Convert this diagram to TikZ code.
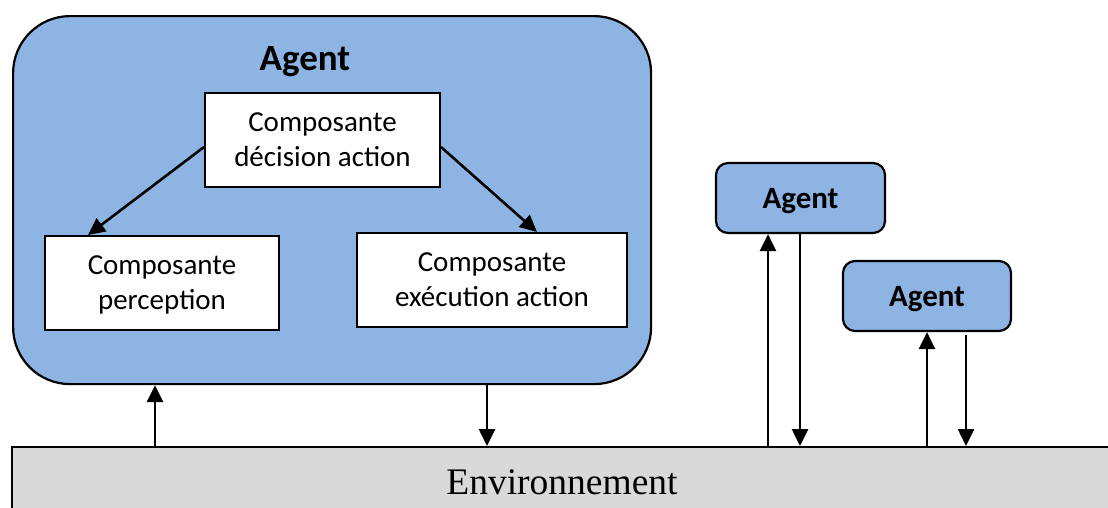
\documentclass[tikz,border=0pt]{standalone}
\usepackage{fontspec}
\setmainfont{Carlito}
\newfontfamily\envfont{Liberation Serif}
\usetikzlibrary{arrows.meta}

\definecolor{agentblue}{HTML}{8EB4E3}
\definecolor{envgray}{HTML}{D9D9D9}

\tikzset{
  agentbig/.style={draw=black, line width=2.2pt, fill=agentblue, rounded corners=57pt, inner sep=0pt},
  agentsmall/.style={draw=black, line width=2.2pt, fill=agentblue, rounded corners=12pt, inner sep=0pt,
    text depth=0pt, font=\fontsize{31}{36}\selectfont\bfseries},
  compbox/.style={draw=black, line width=2pt, fill=white, inner sep=0pt, align=center,
    text depth=0pt, font=\fontsize{29}{35}\selectfont},
  envbox/.style={draw=black, line width=2.2pt, fill=envgray, inner sep=0pt},
  flow/.style={line width=2.6pt, -{Triangle[width=16pt,length=17pt]}},
}

\begin{document}
\begin{tikzpicture}[x=1pt, y=-1pt]
  \useasboundingbox (0,0) rectangle (1108,507);

  % environment strip along the bottom
  \begin{scope}
    \clip (0,0) rectangle (1108,507);
    \node[envbox, minimum width=1120pt, minimum height=80pt, anchor=north west] (env) at (11,446) {};
  \end{scope}
  \node[font=\envfont\fontsize{37.5}{42}\selectfont] (envtxt) at (562,482) {Environnement};

  % main agent with its three components
  \node[agentbig, minimum width=638pt, minimum height=368pt, anchor=north west] (ag) at (12,15) {};
  \node[font=\fontsize{37}{42}\selectfont\bfseries, text depth=0pt] (agtitle) at (305,58) {Agent};
  \node[compbox, minimum width=235pt, minimum height=94pt] (dec) at (322.5,140) {Composante\\décision action};
  \node[compbox, minimum width=234pt, minimum height=94pt] (perc) at (162,283) {Composante\\perception};
  \node[compbox, minimum width=270pt, minimum height=94pt] (exec) at (492,280) {Composante\\exécution action};

  \draw[flow] (dec.west |- 0,147) -- (perc.north west -| 88,0);
  \draw[flow] (dec.east |- 0,147) -- (exec.north west -| 537,0);

  % two further agents
  \node[agentsmall, minimum width=169pt, minimum height=70pt] (a2) at (800.5,198) {Agent};
  \node[agentsmall, minimum width=168pt, minimum height=70pt] (a3) at (927,296) {Agent};

  % exchanges between agents and environment
  \coordinate (x1) at (155,0);
  \coordinate (x2) at (487,0);
  \coordinate (x3) at (768,0);
  \coordinate (x4) at (800,0);
  \coordinate (x5) at (927,0);
  \coordinate (x6) at (966,0);
  \coordinate (a3low) at (0,335);

  \draw[flow] (x1 |- env.north) -- (x1 |- ag.south);
  \draw[flow] (x2 |- ag.south) -- (x2 |- env.north);
  \draw[flow] (x3 |- env.north) -- (x3 |- a2.south);
  \draw[flow] (x4 |- a2.south) -- (x4 |- env.north);
  \draw[flow] (x5 |- env.north) -- (x5 |- a3.south);
  \draw[flow] (x6 |- a3low) -- (x6 |- env.north);
\end{tikzpicture}
\end{document}
